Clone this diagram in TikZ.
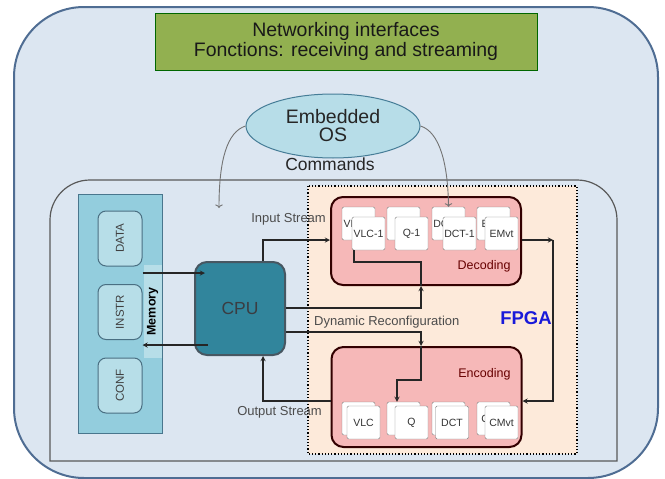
\documentclass[tikz,border=0pt]{standalone}
\usepackage{fontspec}
\setmainfont{Liberation Sans}
\usetikzlibrary{arrows,arrows.meta,calc,shapes.geometric,positioning}
\definecolor{panelblue}{HTML}{DCE6F1}
\definecolor{panelline}{HTML}{4F6D93}
\definecolor{titlegreen}{HTML}{92B050}
\definecolor{osblue}{HTML}{B7DDE8}
\definecolor{memteal}{HTML}{93CDDD}
\definecolor{memlight}{HTML}{B7DEE8}
\definecolor{cputeal}{HTML}{31859C}
\definecolor{fpgapeach}{HTML}{FDEADA}
\definecolor{blockpink}{HTML}{F6B8B8}
\definecolor{fpgablue}{rgb}{0.1, 0.1, 0.85}
\tikzstyle{arrow} = [line width=1.3pt,->,>=stealth,draw=black!85]
\tikzstyle{curvearrow} = [line width=0.9pt,->,draw=black!55]
\tikzstyle{lbl} = [font=\fontsize{13}{15}\selectfont, text=black!70, inner sep=0pt]
\tikzstyle{subbox} = [draw=black!50, fill=white, minimum width=33, minimum height=33, inner sep=0pt, rounded corners=1.5, font=\fontsize{10.5}{12}\selectfont, text=black!80]
\tikzstyle{block} = [draw=black!80!red, line width=2pt, fill=blockpink, rounded corners=12, inner sep=0pt]
\tikzstyle{memitem} = [draw=black!55!cyan, line width=1pt, fill=memlight, rounded corners=8, rotate=90, minimum width=55, minimum height=44, inner sep=0pt, font=\fontsize{11.5}{13}\selectfont, text=black!75]

\begin{document}
\begin{tikzpicture}[x=1pt,y=-1pt]
\useasboundingbox (0,0) rectangle (665,479);
% panels
\draw[draw=panelline, line width=2pt, fill=panelblue, rounded corners=70] (14,7) rectangle (658,478);
\draw[draw=black!65, line width=1.2pt, fill=panelblue] (50,461) [rounded corners=40] -- (50,180) -- (617,180) [sharp corners] -- (617,461) -- cycle;
\node (net) [draw=black!60!green, line width=1pt, fill=titlegreen, minimum width=382, minimum height=57, align=center, font=\fontsize{19.5}{20}\selectfont, text=black!90] at (346,41.5) {Networking interfaces\\Fonctions: receiving and streaming};
\node (os) [ellipse, draw=black!45!cyan, line width=1pt, fill=osblue, minimum width=174, minimum height=64, inner sep=0pt, align=center, font=\fontsize{19.5}{18}\selectfont, text=black!85] at (333,126) {Embedded\\OS};
\node (cmd) [font=\fontsize{17.5}{18}\selectfont, text=black!85] at (330,164) {Commands};
% memory
\node (mem) [draw=black!50!cyan, line width=1pt, fill=memteal, minimum width=84, minimum height=239, inner sep=0pt] at (120,313.5) {};
\node (memstrip) [fill=memlight, minimum width=18, minimum height=93, inner sep=0pt] at (152.5,311.5) {};
\node (memlbl) [rotate=90, font=\bfseries\fontsize{12.5}{14}\selectfont] at (memstrip) {Memory};
\node (data) [memitem] at (120,238.5) {DATA};
\node (instr) [memitem] at (120,312) {INSTR};
\node (conf) [memitem] at (120,385.5) {CONF};
% FPGA
\draw[dotted, line width=1.2pt, fill=fpgapeach] (308,186) rectangle (577,454);
\node (fpga) [font=\bfseries\fontsize{18.5}{20}\selectfont, text=fpgablue] at (526,318) {FPGA};
\node (dec) [block, minimum width=190, minimum height=88] at (426,241) {};
\node (enc) [block, minimum width=190, minimum height=100] at (426.5,397) {};
\node (declbl) [font=\fontsize{12.5}{14}\selectfont, text=black!60!red, anchor=east] at (514,266) {Decoding};
\node (enclbl) [font=\fontsize{12.5}{14}\selectfont, text=black!60!red, anchor=east] at (514,374) {Encoding};
\node (d1b) [subbox] at (358.5,223.5) {VLC-1};
\node (d1f) [subbox] at (368.5,233.5) {VLC-1};
\node (d2b) [subbox] at (403.5,223.5) {Q-1};
\node (d2f) [subbox] at (411.5,233.5) {Q-1};
\node (d3b) [subbox] at (448.5,223.5) {DCT-1};
\node (d3f) [subbox] at (459.5,233.5) {DCT-1};
\node (d4b) [subbox] at (493.5,223.5) {EMvt};
\node (d4f) [subbox] at (501.5,233.5) {EMvt};
\node (e1b) [subbox] at (358.5,418.5) {};
\node (e1f) [subbox] at (363.5,422.5) {VLC};
\node (e2b) [subbox] at (403.5,418.5) {};
\node (e2f) [subbox] at (411.5,422.5) {Q};
\node (e3b) [subbox] at (448.5,418.5) {};
\node (e3f) [subbox] at (452,422.5) {DCT};
\node (e4b) [subbox] at (493.5,418.5) {CMvt};
\node (e4f) [subbox] at (501.5,422.5) {CMvt};
% cpu
\node (cpu) [draw=black!70!cyan, line width=2pt, fill=cputeal, rounded corners=12, minimum width=90, minimum height=93, inner sep=0pt, font=\fontsize{17.5}{20}\selectfont, text=black!85!cyan] at (240,308.5) {CPU};
% turning points
\coordinate (inpt) at (263,240);
\coordinate (outs) at (263,401);
\coordinate (dr) at (421,308);
\coordinate (dk) at (354,262);
\coordinate (er) at (421,332);
\coordinate (ek) at (397,380);
\coordinate (rc) at (553,240);
\coordinate (mu) at (205,273);
\coordinate (ml) at (208,345);
\coordinate (ca) at (219,208);
% connectors
\draw[arrow] (cpu.north -| inpt) |- (dec.west |- inpt);
\draw[arrow] (enc.west |- outs) -| (cpu.south -| outs);
\draw[arrow] (cpu.east |- dr) -| (dec.south -| dr);
\draw[line width=1.3pt, draw=black!85] (dec.south -| dr) |- (dk) -- (dk |- d1f.south);
\draw[arrow] (cpu.east |- er) -| (enc.north -| er);
\draw[arrow] (enc.north -| er) |- (ek) -- (ek |- e2b.north);
\draw[arrow] (dec.east |- rc) -- (rc);
\draw[arrow] (rc) |- (enc.east |- outs);
\draw[arrow] (instr.south |- mu) -- (mu);
\draw[arrow] (ml) -- (instr.south |- ml);
\draw[curvearrow] (os.west) .. controls (227,132) and (219,160) .. (ca);
\draw[curvearrow] (os.east) .. controls (440,132) and (448,165) .. (d3b.north);
% labels
\node (inlbl) [lbl, anchor=east] at (326,219) {Input Stream};
\node (outlbl) [lbl, anchor=east] at (322,412) {Output Stream};
\node (drlbl) [lbl, anchor=west] at (314,322) {Dynamic Reconfiguration};
\end{tikzpicture}
\end{document}
